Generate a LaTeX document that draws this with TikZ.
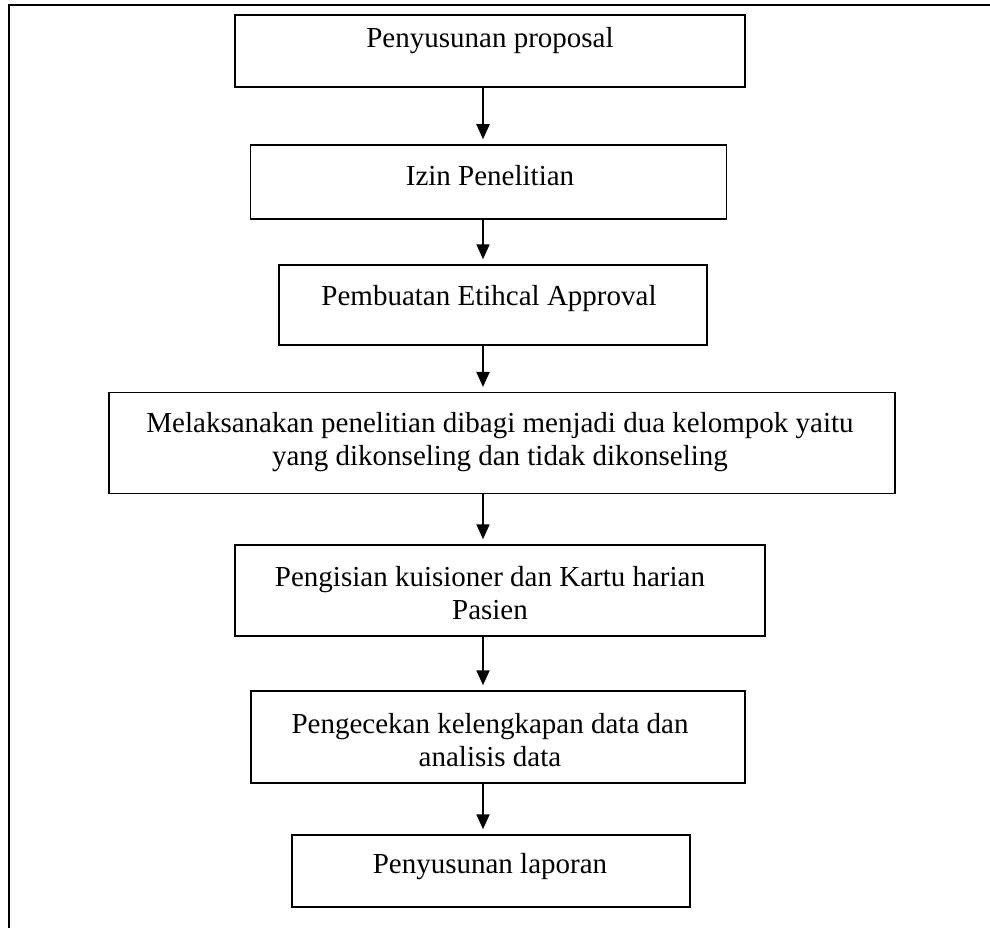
\documentclass[tikz,border=0pt]{standalone}
\usepackage{fontspec}
\setmainfont{Liberation Serif}
\usetikzlibrary{arrows.meta}
\begin{document}
\begin{tikzpicture}[x=1pt,y=-1pt,
  boxst/.style={draw=black,line width=1.5pt,rectangle,inner sep=0pt},
  txt/.style={font=\fontsize{29}{33}\selectfont,align=center,inner sep=0pt},
  arr/.style={line width=2pt,-{Triangle[width=13pt,length=15pt]},shorten >=5pt}]
\useasboundingbox (0,0) rectangle (990,928);
% outer frame
\coordinate (fa) at (9,928);
\coordinate (fb) at (9,4.7);
\coordinate (fc) at (990,4.7);
\draw[line width=2pt] (fa) -- (fb) -- (fc);
% boxes
\node[boxst,minimum width=510pt,minimum height=72pt] (b1) at (490,51) {};
\node[boxst,minimum width=476pt,minimum height=74pt] (b2) at (488.7,182) {};
\node[boxst,minimum width=428pt,minimum height=80pt] (b3) at (492.8,305) {};
\node[boxst,minimum width=786pt,minimum height=101pt] (b4) at (502,443.2) {};
\node[boxst,minimum width=530pt,minimum height=91pt] (b5) at (500,590.5) {};
\node[boxst,minimum width=494pt,minimum height=92pt] (b6) at (497.8,737) {};
\node[boxst,minimum width=398pt,minimum height=72pt] (b7) at (491,871) {};
% texts
\node[txt] (t1) at (490,41) {Penyusunan proposal};
\node[txt] (t2) at (490,176) {Izin Penelitian};
\node[txt] (t3) at (489,299) {Pembuatan Etihcal Approval};
\node[txt] (t4) at (500,442) {Melaksanakan penelitian dibagi menjadi dua kelompok yaitu\\yang dikonseling dan tidak dikonseling};
\node[txt] (t5) at (490,593) {Pengisian kuisioner dan Kartu harian\\Pasien};
\node[txt] (t6) at (490,740) {Pengecekan kelengkapan data dan\\analisis data};
\node[txt] (t7) at (490,867) {Penyusunan laporan};
% arrows
\coordinate (ax) at (483,0);
\draw[arr] (ax |- b1.south) -- (ax |- b2.north);
\draw[arr] (ax |- b2.south) -- (ax |- b3.north);
\draw[arr] (ax |- b3.south) -- (ax |- b4.north);
\draw[arr] (ax |- b4.south) -- (ax |- b5.north);
\draw[arr] (ax |- b5.south) -- (ax |- b6.north);
\draw[arr] (ax |- b6.south) -- (ax |- b7.north);
\end{tikzpicture}
\end{document}
